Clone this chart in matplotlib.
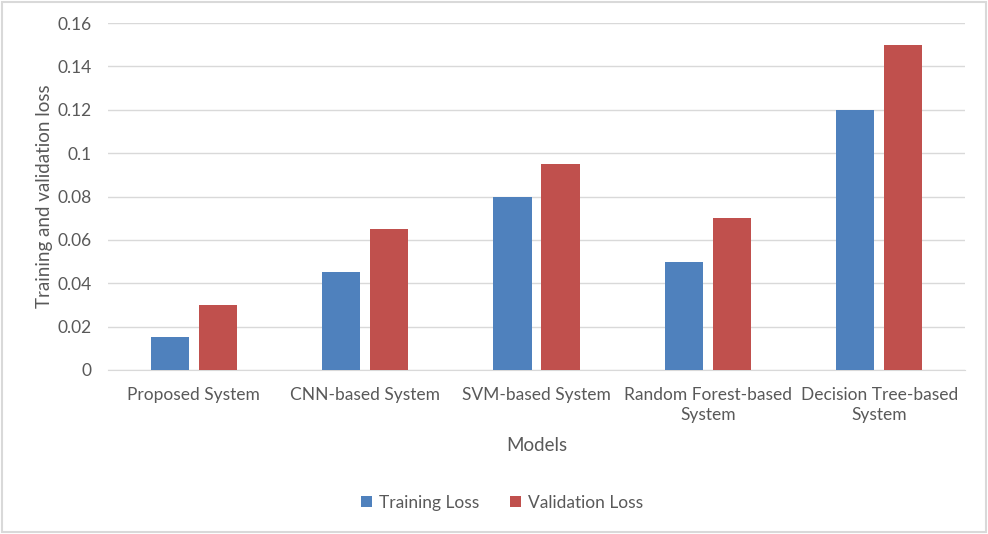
import numpy as np
import matplotlib.pyplot as plt
from matplotlib.patches import Rectangle

plt.rcParams['font.family'] = ['Lato', 'DejaVu Sans']

# data
models = ["Proposed System", "CNN-based System", "SVM-based System",
          "Random Forest-based\nSystem", "Decision Tree-based\nSystem"]
training_loss = [0.015, 0.045, 0.08, 0.05, 0.12]
validation_loss = [0.03, 0.065, 0.095, 0.07, 0.15]

blue = '#4F81BD'
red = '#C0504D'
grey = '#595959'

fig = plt.figure(figsize=(9.88, 5.34), dpi=100)
ax = fig.add_axes([108 / 988, 1 - 370 / 534, 857 / 988, 347 / 534])

x = np.arange(len(models))
w = 0.222
ax.bar(x - 0.14, training_loss, w, color=blue, label='Training Loss', zorder=3)
ax.bar(x + 0.14, validation_loss, w, color=red, label='Validation Loss', zorder=3)

ax.set_xlim(-0.5, len(models) - 0.5)
ax.set_ylim(0, 0.16)
ax.set_yticks(np.arange(0, 0.161, 0.02))
ax.set_yticklabels(['0', '0.02', '0.04', '0.06', '0.08', '0.1', '0.12', '0.14', '0.16'])
ax.set_xticks(x)
ax.set_xticklabels(models, linespacing=1.35)
ax.tick_params(axis='both', length=0, colors=grey, labelsize=12.5)
ax.tick_params(axis='x', pad=12)
ax.tick_params(axis='y', pad=12)
ax.grid(axis='y', color='#D9D9D9', linewidth=1, zorder=0)
for s in ['top', 'right', 'left']:
    ax.spines[s].set_visible(False)
ax.spines['bottom'].set_color('#D9D9D9')

ax.set_xlabel('Models', color=grey, fontsize=13.5, labelpad=10)
ax.set_ylabel('Training and validation loss', color=grey, fontsize=13.5, labelpad=3)

leg = fig.legend(loc='center', bbox_to_anchor=(502 / 988, 1 - 503 / 534), ncol=2,
                 frameon=False, fontsize=12.5, handlelength=0.6, handleheight=0.6,
                 columnspacing=1.8, handletextpad=0.4)
for t in leg.get_texts():
    t.set_color(grey)

fig.patches.append(Rectangle((0.002, 0.003), 0.996, 0.994, transform=fig.transFigure,
                             fill=False, edgecolor='#D9D9D9', linewidth=1.5))

fig.savefig('out.png', dpi=100)
